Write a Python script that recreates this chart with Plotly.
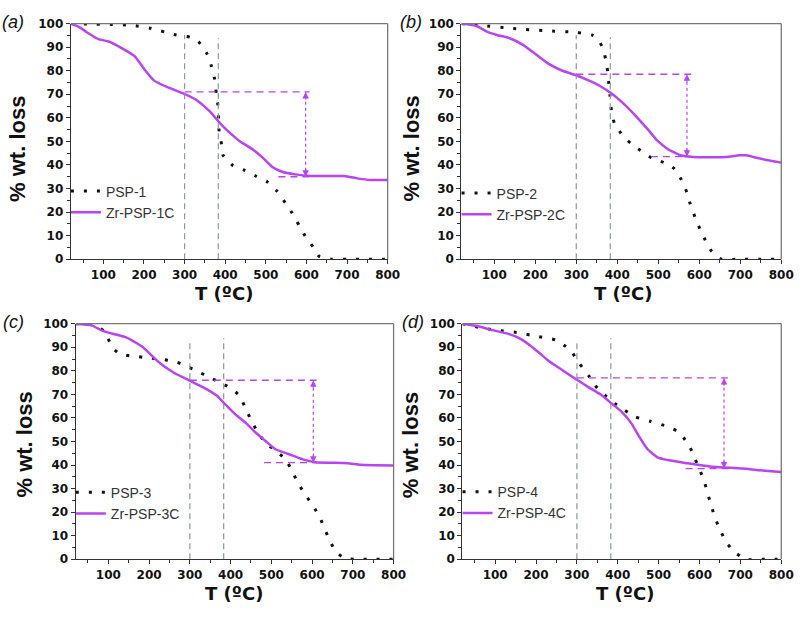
import plotly.graph_objects as go

# ---------------- data ----------------
panel_labels = ["(a)", "(b)", "(c)", "(d)"]
psp_names = ["PSP-1", "PSP-2", "PSP-3", "PSP-4"]
zr_names = ["Zr-PSP-1C", "Zr-PSP-2C", "Zr-PSP-3C", "Zr-PSP-4C"]

# PSP-1 / Zr-PSP-1C
psp1_T = [20, 60, 120, 170, 217, 274, 314, 334, 354, 366, 374, 378, 382, 385, 391, 395, 419, 447, 475, 503, 528, 548, 564, 596, 616, 632, 661, 700, 760, 800]
psp1_W = [100, 99.8, 99.6, 99.3, 98, 95.4, 94.2, 92.4, 87.6, 82, 76.5, 70.3, 65.4, 54.4, 48.8, 44, 39.8, 37.8, 35.3, 32.9, 28.8, 23.9, 19.8, 10.1, 5.3, 1.1, 0, 0, 0, 0]
zr1_T = [20, 40, 64, 88, 113, 145, 177, 201, 225, 258, 298, 330, 362, 387, 411, 435, 467, 491, 516, 540, 572, 612, 693, 725, 757, 800]
zr1_W = [100, 98.6, 95.8, 93.4, 92.4, 89.6, 86.2, 80.6, 75.8, 73, 70.3, 67.5, 62.7, 57.8, 53.7, 50.2, 46.7, 43.3, 39.1, 37.1, 36, 35.3, 35.3, 34.3, 33.6, 33.6]

# PSP-2 / Zr-PSP-2C
psp2_T = [20, 66, 146, 226, 298, 338, 354, 366, 374, 378, 382, 386, 394, 414, 434, 462, 486, 514, 538, 554, 570, 578, 594, 614, 630, 654, 700, 750, 800]
psp2_W = [100, 99.3, 97.9, 97, 96.3, 95.2, 93.1, 89, 82.8, 77.2, 69.7, 62.8, 57.2, 52.4, 49, 45.5, 42.8, 41, 38.6, 34.5, 28.3, 23.4, 15.9, 8.3, 3.4, 0, 0, 0, 0]
zr2_T = [20, 58, 82, 106, 138, 170, 202, 234, 266, 298, 330, 362, 386, 410, 442, 474, 498, 522, 554, 586, 666, 698, 714, 746, 800]
zr2_W = [100, 98.9, 96.6, 95.2, 93.8, 91, 86.9, 82.8, 80, 78.2, 75.9, 73.1, 70.3, 66.9, 61.4, 55.2, 50.3, 46.9, 44.1, 43.4, 43.4, 44.1, 44.1, 42.8, 41]

# PSP-3 / Zr-PSP-3C
psp3_T = [20, 43, 67, 87, 99, 111, 131, 163, 196, 236, 268, 292, 317, 349, 373, 397, 421, 437, 454, 470, 486, 510, 534, 550, 566, 586, 603, 619, 631, 643, 659, 679, 711, 750, 800]
psp3_W = [100, 100, 99.3, 97.2, 93.8, 89.6, 86.9, 86.2, 85.5, 84.8, 83.7, 82, 79.9, 77.2, 75.1, 73, 69.6, 64, 57.8, 53, 49.5, 46.1, 42.6, 37.8, 32.2, 26.7, 22.5, 17.7, 12.9, 8, 3.2, 0.4, 0, 0, 0]
zr3_T = [20, 59, 83, 107, 139, 163, 188, 212, 236, 260, 300, 333, 365, 389, 413, 438, 462, 486, 510, 542, 574, 607, 687, 719, 800]
zr3_W = [100, 99.3, 97.2, 95.9, 94.5, 92.4, 89.6, 85.5, 82, 79.3, 75.8, 73, 69.6, 65.4, 61.3, 57.8, 53.7, 50.2, 46.7, 44.7, 42.6, 41.2, 40.8, 40.1, 39.8]

# PSP-4 / Zr-PSP-4C
psp4_T = [20, 56, 104, 152, 200, 248, 273, 289, 305, 329, 345, 369, 393, 417, 441, 481, 521, 545, 561, 577, 589, 601, 613, 621, 629, 641, 653, 665, 685, 713, 760, 800]
psp4_W = [100, 98.6, 97.2, 96.3, 94.7, 93.1, 90.3, 87.6, 83.4, 77.9, 73.7, 69.6, 66.1, 63.3, 60.6, 58.5, 56.4, 54.4, 51.6, 47.4, 42.6, 37.8, 32.2, 27.4, 22.5, 16.3, 11.5, 7.3, 3.2, 0, 0, 0]
zr4_T = [20, 56, 88, 128, 160, 184, 208, 232, 256, 297, 329, 361, 385, 409, 433, 449, 473, 497, 529, 569, 625, 705, 745, 800]
zr4_W = [100, 99, 97.5, 95.9, 93.8, 91, 87.6, 84.1, 81.3, 76.5, 73, 69.6, 66.1, 62.7, 57.8, 53, 46.7, 43.3, 41.9, 40.8, 39.4, 38.5, 37.8, 37.1]

psp_T = [psp1_T, psp2_T, psp3_T, psp4_T]
psp_W = [psp1_W, psp2_W, psp3_W, psp4_W]
zr_T = [zr1_T, zr2_T, zr3_T, zr4_T]
zr_W = [zr1_W, zr2_W, zr3_W, zr4_W]

# guide lines (grey dashed verticals)
guide_T = [300, 383]
guide_top_300 = [95.2, 95.2, 92.4, 92.4]
guide_top_383 = [93.8, 94.2, 93.8, 93.8]

# residue-gap markers
gap_T = [598, 570, 603, 660]
gap_top = [71, 78.5, 76, 77]
gap_bottom = [35, 43.5, 41, 38.5]
gap_top_start = [300, 300, 300, 300]
gap_top_end = [608, 581, 611, 674]
gap_bot_start = [531, 482, 482, 566]
gap_bot_end = [620, 581, 611, 674]

x_ticks = [100, 200, 300, 400, 500, 600, 700, 800]
y_ticks = [0, 10, 20, 30, 40, 50, 60, 70, 80, 90, 100]

# ---------------- layout geometry (pixels) ----------------
W, H = 810, 622
boxes = [  # left, right, top, bottom
    (72, 394, 17, 258),
    (469, 794, 17, 258),
    (77, 400, 324, 565),
    (470, 794, 324, 565),
]
legend_rows = [199.5, 201.5, 507.5, 507]
ytitle_pos = [(18.5, 145), (418.5, 145), (25, 448), (418, 448)]
xtitle_pos = [(228, 293), (633, 293), (238, 600), (635, 600)]
label_pos = [(13, 15), (418, 15), (14, 322), (420, 322)]

PURPLE = "#b844f2"
GUIDE = "#8a9999"
TICKFONT = dict(family="DejaVu Sans", size=12, color="#111", weight="bold")

def px(x):
    return x / W

def py(y):
    return 1 - y / H

fig = go.Figure()
layout = dict(
    width=W, height=H, margin=dict(l=0, r=0, t=0, b=0),
    paper_bgcolor="white", plot_bgcolor="white", showlegend=True,
)
annotations = []
shapes = []

for i in range(4):
    xa = "x" if i == 0 else f"x{i+1}"
    ya = "y" if i == 0 else f"y{i+1}"
    leg = "legend" if i == 0 else f"legend{i+1}"
    l, r, t, b = boxes[i]

    fig.add_trace(go.Scatter(
        x=psp_T[i], y=psp_W[i], mode="lines", name=psp_names[i],
        line=dict(color="#111", width=3, dash="3px,10px", shape="spline", smoothing=0.5),
        xaxis=xa, yaxis=ya, legend=leg,
    ))
    fig.add_trace(go.Scatter(
        x=zr_T[i], y=zr_W[i], mode="lines", name=zr_names[i],
        line=dict(color=PURPLE, width=2.5, shape="spline", smoothing=0.5),
        xaxis=xa, yaxis=ya, legend=leg,
    ))

    axis_common = dict(
        showgrid=False, zeroline=False, showline=True, linecolor="#333", linewidth=1.3,
        ticks="outside", ticklen=4, tickwidth=1, tickcolor="#333", tickfont=TICKFONT,
        mirror=False,
    )
    layout["xaxis" if i == 0 else f"xaxis{i+1}"] = dict(
        axis_common, domain=[px(l), px(r)], range=[20, 800], anchor=ya,
        tickvals=x_ticks, ticktext=[str(v) for v in x_ticks],
        minor=dict(ticks="outside", ticklen=3, tickcolor="#333", dtick=50, tick0=0),
    )
    layout["yaxis" if i == 0 else f"yaxis{i+1}"] = dict(
        axis_common, domain=[py(b), py(t)], range=[0, 100], anchor=xa,
        tickvals=y_ticks, ticktext=[str(v) for v in y_ticks],
        minor=dict(ticks="outside", ticklen=3, tickcolor="#333", dtick=5, tick0=0),
    )

    layout[leg] = dict(
        x=px(l) - 5 / W, y=py(legend_rows[i]), xanchor="left", yanchor="middle",
        bgcolor="rgba(0,0,0,0)", borderwidth=0, tracegroupgap=0, itemwidth=30,
        font=dict(family="Liberation Sans", size=14, color="#333"),
    )

    # frame top / right (grey)
    dref = dict(xref=f"{xa} domain", yref=f"{ya} domain")
    shapes.append(dict(type="line", x0=0, x1=1, y0=1, y1=1, line=dict(color="#777", width=1.3), **dref))
    shapes.append(dict(type="line", x0=1, x1=1, y0=0, y1=1, line=dict(color="#777", width=1.3), **dref))

    # grey dashed guide lines
    for gT, gtop in zip(guide_T, [guide_top_300[i], guide_top_383[i]]):
        shapes.append(dict(type="line", xref=xa, yref=ya, x0=gT, x1=gT, y0=0, y1=gtop,
                           line=dict(color=GUIDE, width=1.2, dash="6px,4px")))
    # purple dashed horizontals
    shapes.append(dict(type="line", xref=xa, yref=ya, x0=gap_top_start[i], x1=gap_top_end[i],
                       y0=gap_top[i], y1=gap_top[i], line=dict(color=PURPLE, width=1.3, dash="7px,5px")))
    shapes.append(dict(type="line", xref=xa, yref=ya, x0=gap_bot_start[i], x1=gap_bot_end[i],
                       y0=gap_bottom[i], y1=gap_bottom[i], line=dict(color=PURPLE, width=1.3, dash="7px,5px")))
    # dotted vertical gap line
    shapes.append(dict(type="line", xref=xa, yref=ya, x0=gap_T[i], x1=gap_T[i],
                       y0=gap_bottom[i], y1=gap_top[i], line=dict(color=PURPLE, width=1.2, dash="dot")))
    # arrow heads
    annotations.append(dict(x=gap_T[i], y=gap_top[i], xref=xa, yref=ya, ax=0, ay=9, text="",
                            showarrow=True, arrowhead=2, arrowsize=1, arrowwidth=1.3, arrowcolor=PURPLE))
    annotations.append(dict(x=gap_T[i], y=gap_bottom[i], xref=xa, yref=ya, ax=0, ay=-9, text="",
                            showarrow=True, arrowhead=2, arrowsize=1, arrowwidth=1.3, arrowcolor=PURPLE))

    # axis titles
    yx, yy = ytitle_pos[i]
    annotations.append(dict(x=px(yx), y=py(yy), xref="paper", yref="paper", text="<b>% wt. loss</b>",
                            textangle=-90, showarrow=False, xanchor="center", yanchor="middle",
                            font=dict(family="Liberation Sans", size=22, color="#111")))
    xx, xy = xtitle_pos[i]
    annotations.append(dict(x=px(xx), y=py(xy), xref="paper", yref="paper", text="<b>T (ºC)</b>",
                            showarrow=False, xanchor="center", yanchor="middle",
                            font=dict(family="DejaVu Sans", size=18, color="#111")))
    lx, ly = label_pos[i]
    annotations.append(dict(x=px(lx), y=py(ly), xref="paper", yref="paper", text=f"<i>{panel_labels[i]}</i>",
                            showarrow=False, xanchor="center", yanchor="middle",
                            font=dict(family="Liberation Sans", size=18, color="#111")))

layout["annotations"] = annotations
layout["shapes"] = shapes
fig.update_layout(**layout)
fig.write_html("out.html")
